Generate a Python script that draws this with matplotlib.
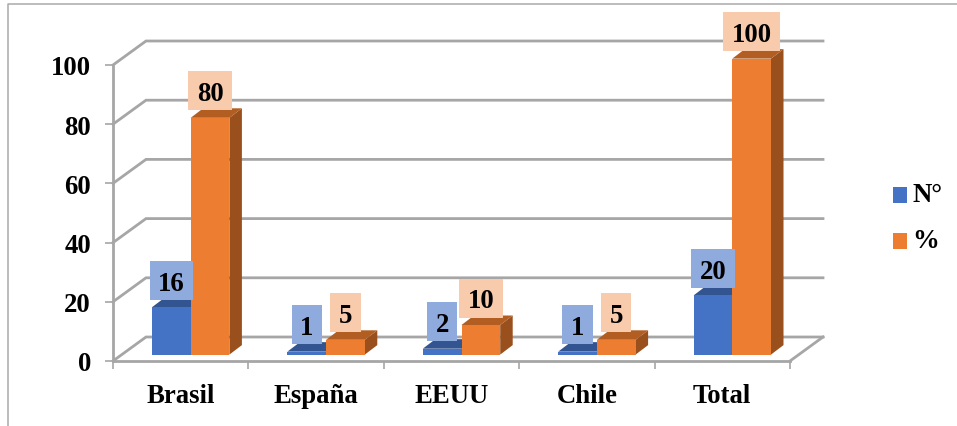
import matplotlib
matplotlib.use("Agg")
import matplotlib.pyplot as plt
from matplotlib.patches import Polygon, Rectangle
from matplotlib.legend_handler import HandlerPatch

categories = ["Brasil", "España", "EEUU", "Chile", "Total"]
n_values = [16, 1, 2, 1, 20]
pct_values = [80, 5, 10, 5, 100]
y_ticks = [0, 20, 40, 60, 80, 100]
series_names = ["N°", "%"]

BLUE, BLUE_TOP = "#4472C4", "#325592"
ORANGE, ORANGE_TOP, ORANGE_SIDE = "#ED7D31", "#B25E22", "#9A501C"
BLUE_LABEL, ORANGE_LABEL = "#8FAADC", "#F8CBAD"
GRID = "#A6A6A6"
FS = 19.3

W, H = 957, 427
plt.rcParams["font.family"] = ["Liberation Serif", "DejaVu Serif"]
plt.rcParams["font.weight"] = "bold"
fig = plt.figure(figsize=(W / 100, H / 100), dpi=100)
ax = fig.add_axes([113 / W, (H - 362) / H, 677 / W, 296 / H])
ax.set_xlim(0, len(categories))
ax.set_ylim(0, 100)
PX = len(categories) / 677      # data units per pixel, x
PY = 100 / 296                  # data units per pixel, y

# frame of the picture
fig.add_artist(plt.Line2D([8 / W, 8 / W, 1], [0, 1 - 5 / H, 1 - 5 / H], color="#A9A9A9", lw=1.1))

# walls and floor
wall_dx, wall_dy = 33 * PX, 24 * PY
for v in y_ticks:
    ax.plot([0, wall_dx, len(categories) + wall_dx], [v, v + wall_dy, v + wall_dy],
            color=GRID, lw=2.0, clip_on=False, zorder=1, solid_joinstyle="miter")
ax.plot([len(categories), len(categories) + wall_dx], [0, wall_dy],
        color=GRID, lw=2.0, clip_on=False, zorder=1)

# bars
bar_w = 38.7 * PX
bar_dx, bar_dy = 12.5 * PX, 9.5 * PY
base = 6.4 * PY
shift = 10 * PX


def bar3d(left, value, front, top, side, z):
    l, r, b, t = left, left + bar_w, base, base + value
    ax.add_patch(Polygon([(r, b), (r + bar_dx, b + bar_dy), (r + bar_dx, t + bar_dy), (r, t)],
                         fc=side, ec="none", zorder=z, clip_on=False))
    ax.add_patch(Polygon([(l, t), (l + bar_dx, t + bar_dy), (r + bar_dx, t + bar_dy), (r, t)],
                         fc=top, ec="none", zorder=z, clip_on=False))
    ax.add_patch(Rectangle((l, b), bar_w, value, fc=front, ec="none", zorder=z + 0.1, clip_on=False))


def label(cx, value, color):
    n = len(str(value))
    w, h = (17 + 13.3 * n) * PX, 39 * PY
    cy = base + value + 27 * PY
    ax.add_patch(Rectangle((cx - w / 2, cy - h / 2), w, h, fc=color, ec="none", zorder=6, clip_on=False))
    ax.text(cx, cy, str(value), ha="center", va="center_baseline", fontsize=FS, fontweight="bold",
            color="black", zorder=7, clip_on=False)


for i, (a, b) in enumerate(zip(n_values, pct_values)):
    mid = i + 0.5 + shift
    bar3d(mid - bar_w, a, BLUE, BLUE_TOP, BLUE_TOP, 3)
    bar3d(mid, b, ORANGE, ORANGE_TOP, ORANGE_SIDE, 4)
    label(mid - bar_w / 2, a, BLUE_LABEL)
    label(mid + bar_w / 2, b, ORANGE_LABEL)

# axes
for s in ("top", "right"):
    ax.spines[s].set_visible(False)
for s in ("left", "bottom"):
    ax.spines[s].set_color(GRID)
    ax.spines[s].set_linewidth(2.0)
ax.set_yticks(y_ticks)
ax.set_yticklabels([str(v) for v in y_ticks], fontsize=FS, fontweight="bold")
ax.tick_params(axis="y", length=5.8, width=1.2, color=GRID, pad=10)
ax.set_xticks([i + 0.5 for i in range(len(categories))])
ax.set_xticklabels(categories, fontsize=FS, fontweight="bold")
ax.set_xticks(range(len(categories) + 1), minor=True)
ax.tick_params(axis="x", which="major", length=0, pad=15.5)
ax.tick_params(axis="x", which="minor", length=5.8, width=1.2, color=GRID)
ax.patch.set_alpha(0)


def lowered(legend, orig_handle, xdescent, ydescent, width, height, fontsize):
    return Rectangle((-xdescent, -ydescent - 2.5), width, height)


handles = [Rectangle((0, 0), 1, 1, fc=BLUE, ec="none"), Rectangle((0, 0), 1, 1, fc=ORANGE, ec="none")]
fig.legend(handles, series_names, loc="center left", bbox_to_anchor=(893 / W, 1 - 218.5 / H),
           frameon=False, fontsize=FS, handlelength=0.52, handleheight=0.52,
           handletextpad=0.2, labelspacing=0.78, borderpad=0, borderaxespad=0,
           handler_map={Rectangle: HandlerPatch(patch_func=lowered)})

fig.savefig("out.png", dpi=100)
